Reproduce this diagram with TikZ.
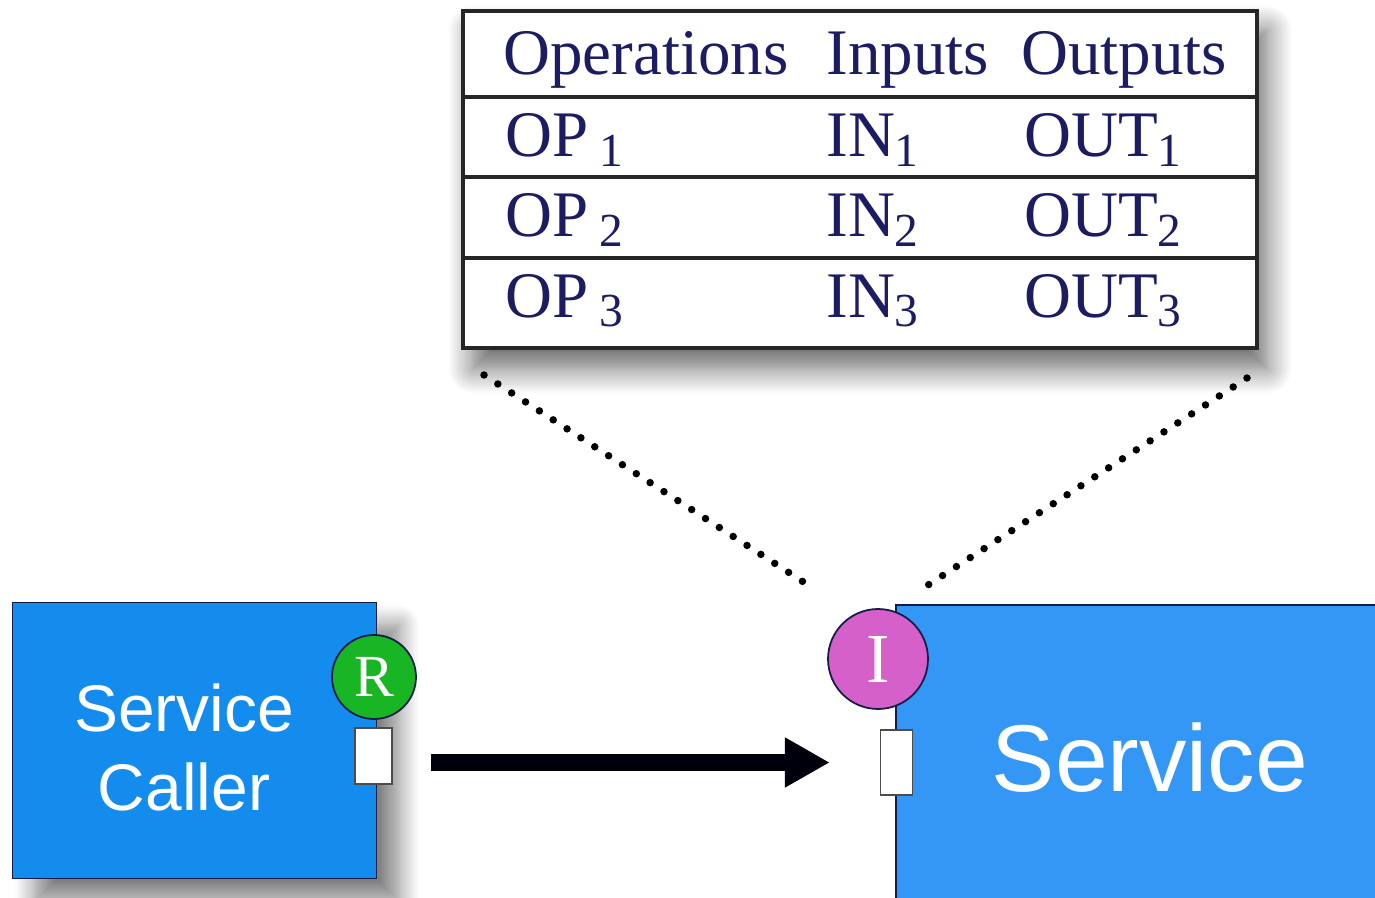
\documentclass[tikz,border=0pt]{standalone}
\usepackage{fontspec}
\setmainfont{Liberation Serif}
\setsansfont{Liberation Sans}
\usetikzlibrary{arrows.meta}
\usetikzlibrary{shadows.blur}
\usetikzlibrary{positioning}
\definecolor{optext}{RGB}{28,28,98}
\definecolor{edge}{RGB}{20,28,70}
\definecolor{callerblue}{RGB}{20,140,238}
\definecolor{serviceblue}{RGB}{52,150,245}
\definecolor{reqgreen}{RGB}{24,182,36}
\definecolor{ifmagenta}{RGB}{214,96,202}
\newcommand{\opsub}[1]{\raisebox{-.2cm}{\fontsize{27pt}{27pt}\selectfont #1}}
\tikzset{
  optable/.style={draw=black!85,line width=2.3pt,fill=white,minimum width=15.88cm,minimum height=6.76cm,
    blur shadow={shadow xshift=.2cm,shadow yshift=-.4cm,shadow blur radius=.5cm,shadow blur steps=12,shadow opacity=60}},
  oprule/.style={draw=black!85,line width=1.8pt},
  celltxt/.style={anchor=base west,inner sep=0pt,text=optext,font=\fontsize{37pt}{37pt}\selectfont},
  callerbox/.style={draw=edge,line width=1pt,fill=callerblue,minimum width=7.28cm,minimum height=5.52cm,
    blur shadow={shadow xshift=.45cm,shadow yshift=-.45cm,shadow blur radius=.4cm,shadow blur steps=12,shadow opacity=50}},
  servicebox/.style={draw=edge,line width=1pt,fill=serviceblue,minimum width=10cm,minimum height=6.2cm},
  boxtxt/.style={inner sep=0pt,text=white,align=center,font=\sffamily},
  badge/.style={circle,draw=edge,line width=1pt,inner sep=0pt,text=white},
  port/.style={draw=black!70,line width=.8pt,fill=white,inner sep=0pt},
  dotline/.style={line width=.15cm,line cap=round,dash pattern=on 0pt off .33cm},
  flow/.style={line width=.34cm,-{Triangle[length=.9cm,width=.94cm]},color=black!95!blue}
}
\begin{document}
\begin{tikzpicture}[x=0.02cm,y=-0.02cm]
  \path[use as bounding box] (0,0) rectangle (1375,898);
  \clip (0,0) rectangle (1375,898);
  \node[optable] (ops) at (860,179.5) {};
  \foreach \y in {97,177,258}
    \draw[oprule] (463,\y) -- (1257,\y);
  \node[celltxt] (hop) at (503,75) {Operations};
  \node[celltxt] (hin) at (826,75) {Inputs};
  \node[celltxt] (hout) at (1021,75) {Outputs};
  \foreach \i/\y in {1/157,2/237,3/317}{
    \node[celltxt] (op\i) at (505,\y) {OP\,\opsub{\i}};
    \node[celltxt] (in\i) at (826,\y) {IN\opsub{\i}};
    \node[celltxt] (out\i) at (1024,\y) {OUT\opsub{\i}};
  }
  \coordinate (dl1) at (484,375);
  \coordinate (dl2) at (805,583);
  \coordinate (dr1) at (1247,378);
  \coordinate (dr2) at (928,585);
  \draw[dotline] (dl1) -- (dl2);
  \draw[dotline] (dr1) -- (dr2);
  \node[callerbox] (caller) at (194.5,740.5) {};
  \node[boxtxt,font=\sffamily\fontsize{37.5pt}{45pt}\selectfont] (callerlbl) at (184,747) {Service\\Caller};
  \node[servicebox] (service) at (1146,760) {};
  \node[boxtxt,font=\sffamily\fontsize{54pt}{54pt}\selectfont] (servicelbl) at (1150,758) {Service};
  \node[badge,fill=reqgreen,minimum size=1.68cm,font=\fontsize{34pt}{34pt}\selectfont] (R) at (374,677) {R};
  \node[badge,fill=ifmagenta,minimum size=2cm,font=\fontsize{40pt}{40pt}\selectfont] (I) at (878,659) {I};
  \node[port,minimum width=.74cm,minimum height=1.12cm] (callerport) at (373.5,756) {};
  \node[port,minimum width=.64cm,minimum height=1.3cm] (svcport) at (896.5,762.5) {};
  \draw[flow,shorten <=.76cm,shorten >=1cm] (callerport.east |- svcport.west) -- (svcport.west);
\end{tikzpicture}
\end{document}
